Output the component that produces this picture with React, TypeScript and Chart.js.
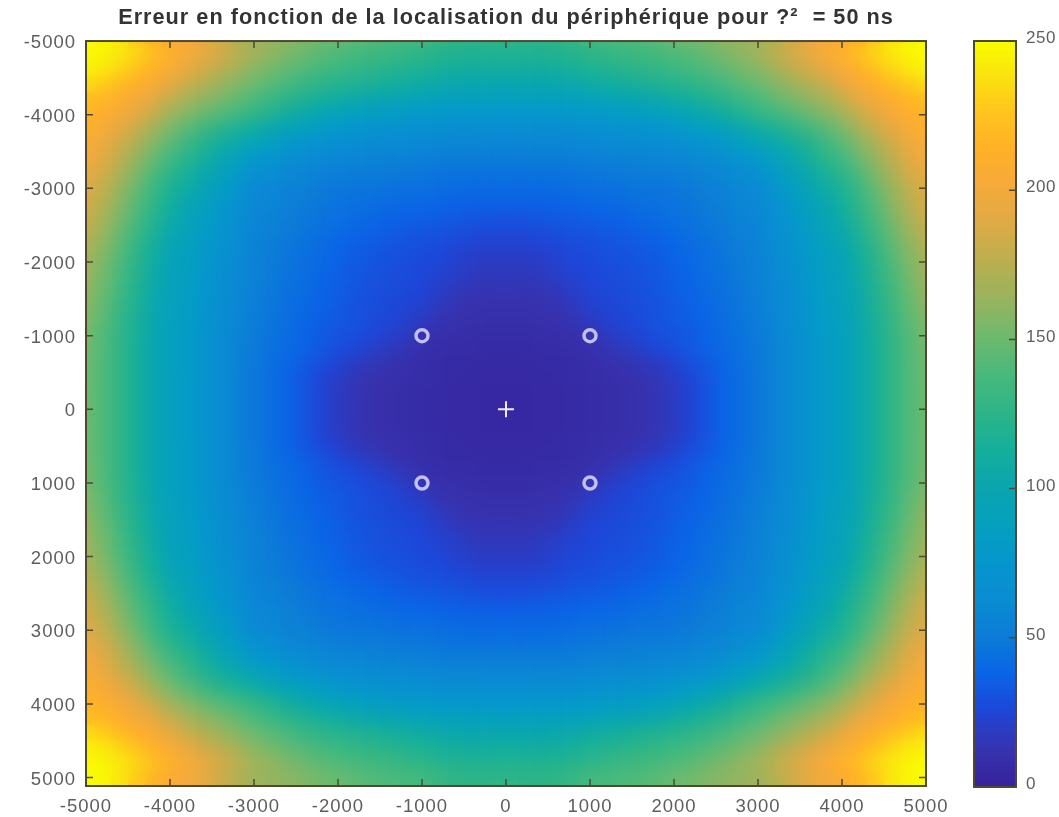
import React, { useEffect, useRef } from "react";
import { Chart, registerables } from "chart.js";

Chart.register(...registerables);

const titleText = "Erreur en fonction de la localisation du périphérique pour ?²  = 50 ns";
const axisTicks = [-5000, -4000, -3000, -2000, -1000, 0, 1000, 2000, 3000, 4000, 5000];
const yAxisMax = 5115;
const colorbarTicks = [0, 50, 100, 150, 200, 250];
const anchorPoints = [
  { x: -1000, y: -1000 },
  { x: 1000, y: -1000 },
  { x: -1000, y: 1000 },
  { x: 1000, y: 1000 },
];
const devicePoint = [{ x: 0, y: 0 }];

// distance from the centre, for the rows and columns of the table below
const offsets = [0, 200, 400, 600, 800, 1000, 1200, 1400, 1600, 1800, 2000, 2200, 2400, 2600, 2800, 3000, 3200, 3400, 3600, 3800, 4000, 4200, 4400, 4600, 4800, 5000];

// error: rows are |y|, columns are |x|
const errorRows = [
  [4,4,5,5,6,7,8,9,11,14,18,24,31,37,42,47,53,62,73,80,88,100,113,127,140,150],
  [4,4,5,5,6,7,8,9,11,14,18,24,31,37,42,47,53,62,73,80,88,100,113,127,140,150],
  [5,5,5,6,7,8,9,10,12,15,19,25,31,37,42,47,53,62,73,80,88,100,113,127,140,151],
  [5,5,6,6,7,8,10,12,15,18,23,28,33,38,43,48,54,63,73,81,88,100,113,127,140,151],
  [6,6,7,7,8,10,13,17,21,25,28,32,36,40,44,48,54,63,73,81,88,100,113,127,141,152],
  [7,7,8,9,10,13,18,22,25,28,30,33,37,41,45,49,55,63,73,81,88,100,114,128,141,153],
  [9,9,10,11,13,18,22,25,27,30,32,35,38,42,46,50,56,64,74,82,89,101,115,129,144,156],
  [11,11,12,13,17,22,24,26,28,30,33,36,39,43,47,51,57,65,75,83,90,102,117,131,146,160],
  [13,13,14,16,20,24,26,27,29,31,34,37,41,44,48,52,58,66,76,84,91,104,119,134,149,162],
  [16,16,17,20,23,25,27,28,30,32,35,38,42,45,49,53,59,67,77,85,92,106,122,137,152,165],
  [18,18,19,22,25,26,28,29,31,33,36,39,43,46,50,53,60,69,78,86,93,108,124,140,155,168],
  [22,22,23,25,27,28,30,31,33,35,37,41,44,47,51,54,61,71,80,88,97,112,128,144,159,172],
  [26,26,27,28,30,31,32,34,36,38,40,43,46,49,52,55,63,73,82,91,102,117,133,149,164,177],
  [31,31,32,33,34,35,36,37,39,41,43,45,48,51,54,57,65,76,85,96,107,122,138,154,169,182],
  [36,36,36,37,38,39,40,41,43,44,45,47,50,53,56,59,68,79,90,101,112,127,143,159,174,186],
  [40,40,40,41,42,43,44,45,46,46,47,49,52,55,58,61,72,84,96,107,116,132,148,163,178,190],
  [45,45,45,45,46,47,48,49,50,50,51,53,56,59,63,68,80,92,103,115,125,140,155,170,184,195],
  [50,50,50,50,51,52,53,54,55,56,57,59,62,66,72,79,90,101,112,124,134,148,162,176,190,200],
  [56,56,57,57,58,59,60,61,62,63,65,68,72,78,86,94,102,111,121,132,143,157,170,183,196,205],
  [64,64,65,65,66,67,68,70,72,74,78,82,87,93,101,108,116,124,133,143,154,167,180,192,202,210],
  [75,75,76,76,77,78,80,82,85,88,92,97,103,110,119,127,134,141,149,157,166,179,191,201,209,215],
  [88,88,88,88,90,92,95,97,100,103,107,112,118,124,131,138,146,153,160,168,178,191,201,209,216,222],
  [100,100,100,101,103,106,109,112,115,118,121,125,130,136,143,148,156,164,172,180,191,203,212,220,228,234],
  [110,110,110,111,113,116,119,122,125,128,131,135,140,145,151,157,166,175,183,192,202,212,224,232,239,244],
  [118,118,118,119,121,125,128,131,133,136,139,143,148,154,160,166,175,184,193,202,211,222,232,240,245,248],
  [125,125,125,126,130,135,137,139,141,144,148,151,155,159,162,165,173,182,192,200,205,216,228,239,246,250],
];

// colour map as it appears in the picture's colour bar
const mapValues = [0, 12, 25, 37, 50, 62, 75, 87, 100, 112, 125, 137, 150, 162, 175, 187, 200, 212, 225, 237, 250];
const mapColors = [
  [53,35,155],[55,50,175],[30,70,215],[10,100,230],[12,125,215],[10,140,210],[5,150,205],
  [5,160,190],[10,165,175],[20,175,155],[45,180,135],[70,185,125],[110,185,110],[150,180,95],
  [185,175,80],[220,170,70],[245,170,60],[255,175,40],[255,195,30],[250,225,15],[250,255,0],
];

function colorOf(v: number): string {
  let i = 0;
  while (i < mapValues.length - 2 && v > mapValues[i + 1]) i++;
  const t = Math.min(1, Math.max(0, (v - mapValues[i]) / (mapValues[i + 1] - mapValues[i])));
  const c = mapColors[i].map((a, k) => Math.round(a + (mapColors[i + 1][k] - a) * t));
  return `rgb(${c[0]},${c[1]},${c[2]})`;
}

function buildCells() {
  const pts: { x: number; y: number }[] = [];
  const colors: string[] = [];
  const signed = [...offsets.slice(1).reverse().map((o) => -o), ...offsets];
  for (const y of signed) {
    for (const x of signed) {
      const v = errorRows[offsets.indexOf(Math.abs(y))][offsets.indexOf(Math.abs(x))];
      pts.push({ x, y });
      colors.push(colorOf(v));
    }
  }
  return { pts, colors };
}

const FONT = "'Liberation Sans', Arial, sans-serif";
const TEXT = "#5e5e5e";
const FRAME = "#4f4833";

const spacing = (px: string) => ({
  id: "spacing",
  beforeLayout(chart: any) { chart.ctx.letterSpacing = px; },
  beforeDraw(chart: any) { chart.ctx.letterSpacing = px; },
});

const smoothCells = {
  id: "smoothCells",
  afterDatasetDraw(chart: any, args: any) {
    if (args.index !== 2) return;
    const a = chart.chartArea;
    const ctx = chart.ctx;
    ctx.save();
    ctx.beginPath();
    ctx.rect(a.left, a.top, a.width, a.height);
    ctx.clip();
    ctx.filter = "blur(7px)";
    ctx.drawImage(chart.canvas, a.left, a.top, a.width, a.height, a.left, a.top, a.width, a.height);
    ctx.restore();
  },
};

const mainFrame = {
  id: "mainFrame",
  afterDraw(chart: any) {
    const { ctx, chartArea: a, scales } = chart;
    ctx.save();
    ctx.strokeStyle = FRAME;
    ctx.lineWidth = 2;
    ctx.strokeRect(a.left, a.top, a.width, a.height);
    ctx.lineWidth = 1.5;
    ctx.beginPath();
    for (const t of scales.x.ticks) {
      const p = scales.x.getPixelForValue(t.value);
      ctx.moveTo(p, a.top); ctx.lineTo(p, a.top + 7);
      ctx.moveTo(p, a.bottom); ctx.lineTo(p, a.bottom - 7);
    }
    for (const t of scales.y.ticks) {
      const p = scales.y.getPixelForValue(t.value);
      ctx.moveTo(a.left, p); ctx.lineTo(a.left + 7, p);
      ctx.moveTo(a.right, p); ctx.lineTo(a.right - 7, p);
    }
    ctx.stroke();
    ctx.restore();
  },
};

const barFrame = {
  id: "barFrame",
  afterDraw(chart: any) {
    const { ctx, chartArea: a, scales } = chart;
    ctx.save();
    ctx.strokeStyle = FRAME;
    ctx.lineWidth = 2;
    ctx.strokeRect(a.left, a.top, a.width, a.height);
    ctx.lineWidth = 1.5;
    ctx.beginPath();
    for (const t of scales.y.ticks) {
      const p = scales.y.getPixelForValue(t.value);
      ctx.moveTo(a.right, p); ctx.lineTo(a.right - 7, p);
    }
    ctx.stroke();
    ctx.restore();
  },
};

export default function App() {
  const mainRef = useRef<HTMLCanvasElement>(null);
  const barRef = useRef<HTMLCanvasElement>(null);

  useEffect(() => {
    const { pts, colors } = buildCells();
    const setTicks = (s: any) => { s.ticks = axisTicks.map((value) => ({ value })); };
    const main = new Chart(mainRef.current!, {
      type: "scatter",
      data: {
        datasets: [
          {
            label: "device",
            data: devicePoint,
            order: 1,
            pointStyle: "cross",
            pointRadius: 8,
            pointBorderColor: "#eeecfb",
            pointBorderWidth: 2,
          },
          {
            label: "anchors",
            data: anchorPoints,
            order: 1,
            pointStyle: "circle",
            pointRadius: 6,
            pointBackgroundColor: "rgba(0,0,0,0)",
            pointBorderColor: "#c3bfee",
            pointBorderWidth: 3.5,
          },
          {
            label: "error",
            data: pts,
            order: 3,
            pointStyle: "rect",
            pointRadius: 12.1,
            pointBorderWidth: 0,
            pointBackgroundColor: colors,
          },
        ],
      },
      options: {
        animation: false,
        responsive: false,
        devicePixelRatio: 1,
        layout: { padding: { left: 0, right: 34, top: 0, bottom: 0 } },
        events: [],
        plugins: {
          legend: { display: false },
          tooltip: { enabled: false },
          title: {
            display: true,
            text: titleText,
            fullSize: false,
            color: "#333333",
            font: { family: FONT, size: 21.7, weight: "bold", lineHeight: 1.2 },
            padding: { top: 5, bottom: 10 },
          },
        },
        scales: {
          x: {
            type: "linear",
            min: axisTicks[0],
            max: axisTicks[axisTicks.length - 1],
            border: { display: false },
            grid: { display: false },
            afterBuildTicks: setTicks,
            ticks: { autoSkip: false, maxRotation: 0, color: TEXT, padding: 2, font: { family: FONT, size: 18.5 }, callback: (v: any) => String(v) },
            afterFit: (s: any) => { s.height = 31; },
          },
          y: {
            type: "linear",
            reverse: true,
            min: axisTicks[0],
            max: yAxisMax,
            border: { display: false },
            grid: { display: false },
            afterBuildTicks: setTicks,
            ticks: { autoSkip: false, color: TEXT, padding: 2, labelOffset: 2, font: { family: FONT, size: 18.5 }, callback: (v: any) => String(v) },
            afterFit: (s: any) => { s.width = 86; },
          },
        },
      } as any,
      plugins: [spacing("1px"), smoothCells, mainFrame],
    });

    const levels = 125;
    const top = colorbarTicks[colorbarTicks.length - 1];
    const step = top / levels;
    const bar = new Chart(barRef.current!, {
      type: "bar",
      data: {
        labels: [""],
        datasets: Array.from({ length: levels }, (_, i) => ({
          data: [[i * step, (i + 1) * step + 0.6]],
          backgroundColor: colorOf((i + 0.5) * step),
          borderWidth: 0,
          grouped: false,
          barPercentage: 1,
          categoryPercentage: 1,
        })),
      } as any,
      options: {
        animation: false,
        responsive: false,
        devicePixelRatio: 1,
        events: [],
        layout: { padding: { left: 14, right: 0, top: 41, bottom: 30 } },
        plugins: { legend: { display: false }, tooltip: { enabled: false }, title: { display: false } },
        scales: {
          x: { display: false },
          y: {
            type: "linear",
            position: "right",
            min: 0,
            max: top,
            border: { display: false },
            grid: { display: false },
            afterBuildTicks: (s: any) => { s.ticks = colorbarTicks.map((value) => ({ value })); },
            ticks: { autoSkip: false, color: TEXT, padding: 2, labelOffset: -2.5, font: { family: FONT, size: 17 } },
            afterFit: (s: any) => { s.width = 43; },
          },
        },
      } as any,
      plugins: [spacing("0.5px"), barFrame],
    });

    return () => {
      main.destroy();
      bar.destroy();
    };
  }, []);

  const base: React.CSSProperties = { position: "fixed", top: 0, filter: "blur(0.6px)" };
  return (
    <div>
      <canvas ref={mainRef} width={960} height={817} style={{ ...base, left: 0, width: 960, height: 817 }} />
      <canvas ref={barRef} width={99} height={817} style={{ ...base, left: 960, width: 99, height: 817 }} />
    </div>
  );
}
